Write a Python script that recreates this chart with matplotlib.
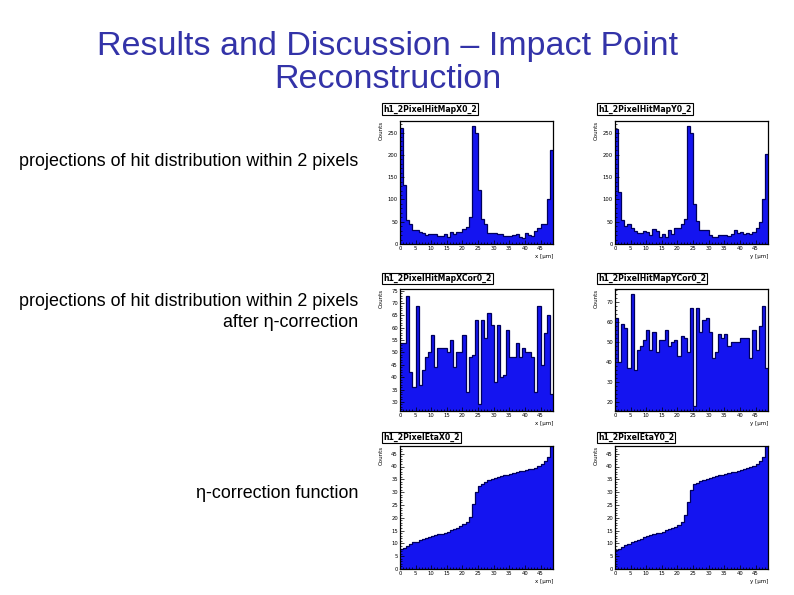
#!/usr/bin/python3
import numpy as np
import matplotlib
matplotlib.use("Agg")
from matplotlib import pyplot as plt
from matplotlib.ticker import MultipleLocator

# slide texts
title_lines = ["Results and Discussion \u2013 Impact Point", "Reconstruction"]
row_labels = [
    "projections of hit distribution within 2 pixels",
    "projections of hit distribution within 2 pixels\nafter \u03b7-correction",
    "\u03b7-correction function",
]

# histogram names and x labels
hist_names = [
    "h1_2PixelHitMapX0_2", "h1_2PixelHitMapY0_2",
    "h1_2PixelHitMapXCor0_2", "h1_2PixelHitMapYCor0_2",
    "h1_2PixelEtaX0_2", "h1_2PixelEtaY0_2",
]
x_titles = ["x [\u03bcm]", "y [\u03bcm]"] * 3

# bin edges in micrometres (49 bins of 1 um)
bin_edges = np.arange(0, 50)

# raw hit maps
hit_x = [261, 132, 54, 45, 31, 31, 28, 25, 20, 22, 22, 22, 19, 19, 22, 16, 26,
         22, 28, 26, 33, 39, 60, 264, 248, 121, 57, 44, 25, 24, 25, 22, 22, 18,
         18, 19, 20, 22, 16, 13, 24, 20, 18, 30, 35, 46, 46, 100, 210]
hit_y = [257, 117, 54, 40, 45, 35, 30, 24, 25, 29, 26, 20, 34, 29, 15, 22, 16,
         31, 22, 37, 35, 45, 56, 264, 248, 90, 52, 31, 31, 31, 20, 16, 16, 20,
         20, 20, 18, 22, 31, 24, 28, 22, 25, 22, 28, 37, 50, 100, 201]

# after eta correction
cor_x = [54, 54, 73, 42, 36, 69, 37, 43, 48, 50, 57, 44, 52, 52, 52, 50, 55,
         44, 50, 50, 57, 34, 48, 49, 63, 29, 63, 56, 66, 61, 38, 61, 40, 41,
         59, 48, 48, 54, 48, 52, 50, 50, 48, 34, 69, 45, 58, 65, 33]
cor_y = [62, 40, 59, 57, 37, 74, 36, 46, 48, 51, 56, 46, 55, 45, 51, 51, 56,
         48, 50, 51, 43, 53, 52, 45, 67, 18, 67, 55, 61, 62, 55, 42, 45, 54,
         52, 54, 48, 50, 50, 50, 52, 52, 52, 42, 56, 46, 58, 68, 37]

# eta correction functions
eta_x = [7.8, 8.3, 9.1, 9.7, 10.4, 10.6, 11.3, 11.7, 12.2, 12.6, 13.0, 13.2,
         13.6, 13.6, 13.9, 14.3, 15.2, 15.6, 16.1, 16.9, 17.4, 18.4, 20.4, 25.2,
         30.1, 32.4, 33.2, 34.0, 34.9, 35.3, 35.7, 35.9, 36.3, 36.6, 36.8, 37.2,
         37.6, 37.9, 38.1, 38.3, 38.5, 38.9, 39.2, 39.6, 40.2, 41.1, 42.0, 43.7,
         48.0]
eta_y = [7.4, 8.0, 8.6, 9.4, 9.9, 10.4, 11.0, 11.5, 11.9, 12.3, 12.7, 13.1,
         13.6, 14.0, 14.1, 14.4, 15.1, 15.6, 16.0, 16.5, 17.3, 18.2, 21.0, 26.0,
         30.7, 33.0, 33.6, 34.2, 34.8, 35.2, 35.6, 35.8, 36.2, 36.5, 36.8, 37.1,
         37.5, 37.7, 37.9, 38.2, 38.6, 39.1, 39.5, 39.9, 40.3, 40.8, 42.0, 43.8,
         48.0]

hists = [hit_x, hit_y, cor_x, cor_y, eta_x, eta_y]
y_ranges = [(0, 276), (0, 276), (26.3, 75.7), (15.6, 76.6), (0, 48), (0, 48)]
y_major = [50, 50, 5, 10, 5, 5]
y_minor = [10, 10, 1, 2, 1, 1]

W, H = 794, 595
fig = plt.figure(figsize=(W / 100, H / 100), dpi=100)
fig.patch.set_facecolor("white")

def px_axes(x0, y0, x1, y1):
    return fig.add_axes([x0 / W, 1 - y1 / H, (x1 - x0) / W, (y1 - y0) / H])

# panel frames in pixels (left, top, right, bottom)
cols = [(400, 553), (615, 768)]
rows = [(121, 244), (289, 411), (446, 569)]
box_y = [109, 278.5, 437.5]

for line, yy in zip(title_lines, [46, 79]):
    fig.text(0.5 * (93 + 682) / W, 1 - yy / H, line, ha="center",
             va="center", fontsize=24.5, color="#3333a8",
             family="Liberation Sans")

label_y = [162, 312, 493]
for txt, yy in zip(row_labels, label_y):
    fig.text(358 / W, 1 - yy / H, txt, ha="right", va="center", fontsize=12.9,
             family="Liberation Sans", multialignment="right", linespacing=1.3)

for k, vals in enumerate(hists):
    r, c = divmod(k, 2)
    x0, x1 = cols[c]
    y0, y1 = rows[r]
    ax = px_axes(x0, y0, x1, y1)
    ax.stairs(vals, bin_edges, baseline=0, fill=True, color="#1414f0", lw=0)
    ax.stairs(vals, bin_edges, baseline=None, color="#00005a", lw=0.9)
    ax.set_xlim(0, 49)
    ax.set_ylim(*y_ranges[k])
    ax.xaxis.set_major_locator(MultipleLocator(5))
    ax.xaxis.set_minor_locator(MultipleLocator(1))
    ax.yaxis.set_major_locator(MultipleLocator(y_major[k]))
    ax.yaxis.set_minor_locator(MultipleLocator(y_minor[k]))
    ax.tick_params(which="both", direction="in", labelsize=3.8, pad=1.5,
                   width=0.5, colors="black")
    ax.tick_params(which="major", length=3)
    ax.tick_params(which="minor", length=1.5)
    for sp in ax.spines.values():
        sp.set_linewidth(0.9)
    ax.text(-0.12, 1.0, "Counts", rotation=90, ha="center", va="top",
            transform=ax.transAxes, fontsize=4)
    ax.text(1.0, -0.085, x_titles[k], ha="right", va="top",
            transform=ax.transAxes, fontsize=4)
    fig.text((x0 - 17) / W, 1 - box_y[r] / H, hist_names[k], ha="left",
             va="center", fontsize=5.6, weight="bold",
             bbox=dict(boxstyle="square,pad=0.15", fc="white", ec="black",
                       lw=0.8))

fig.savefig("out.png", dpi=100)
